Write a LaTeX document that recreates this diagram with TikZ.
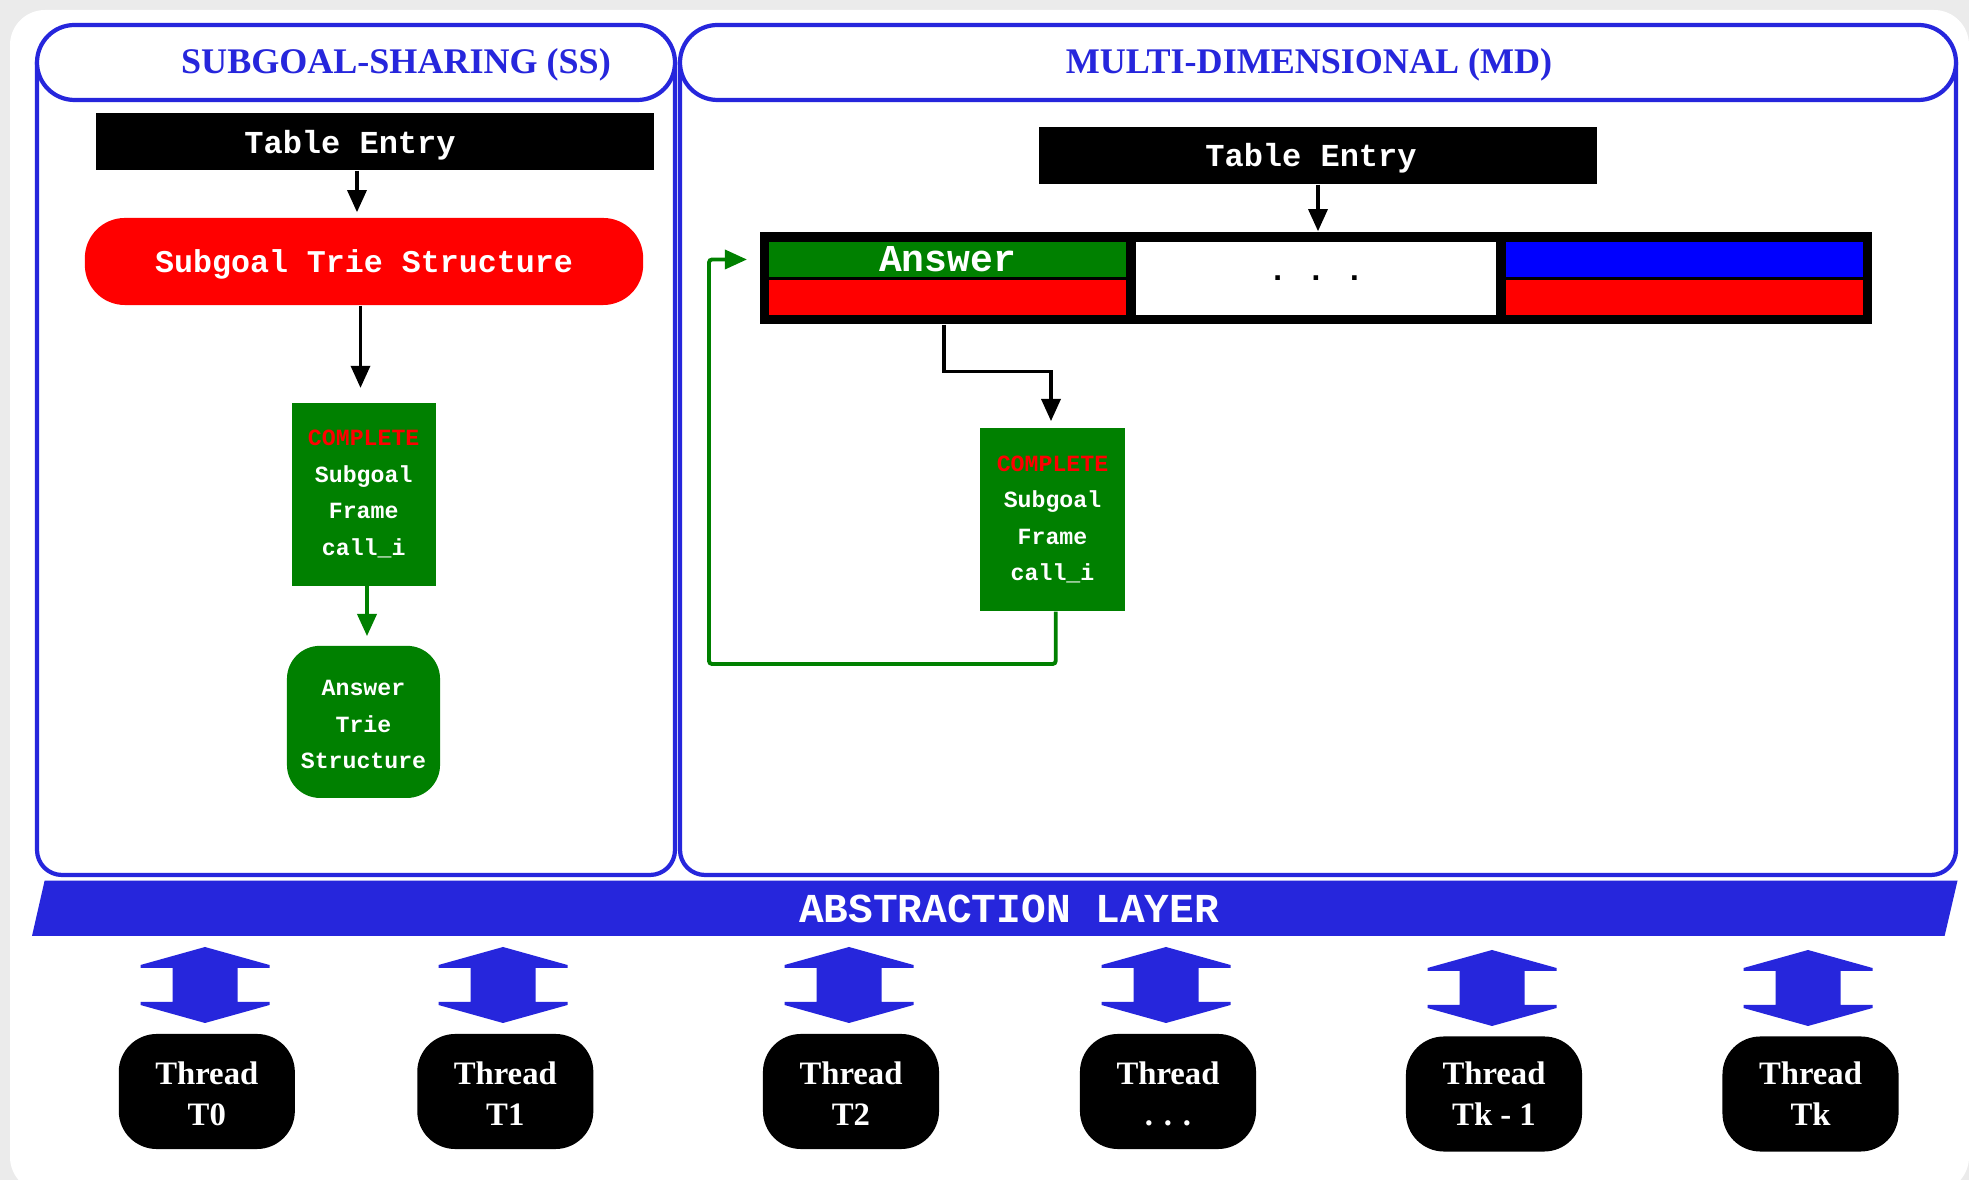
\documentclass[tikz,border=0pt]{standalone}
\usepackage{fontspec}
\setmainfont{Liberation Serif}
\setmonofont{Liberation Mono}
\usetikzlibrary{arrows.meta}
\definecolor{abblue}{RGB}{38,38,220}
\definecolor{dgreen}{RGB}{0,128,0}
\definecolor{bggray}{RGB}{235,235,235}
\begin{document}
\begin{tikzpicture}[x=0.01cm,y=-0.01cm,
  panel/.style={draw=abblue, line width=1.2pt},
  hdrtext/.style={font=\fontsize{10.25}{12}\selectfont\bfseries, text=abblue, inner sep=0pt, anchor=base},
  blackbox/.style={fill=black, text=white, inner sep=0pt, font=\fontsize{9.1}{11}\selectfont\ttfamily\bfseries},
  redbox/.style={fill=red, text=white, inner sep=0pt, font=\fontsize{9}{11}\selectfont\ttfamily\bfseries},
  greenbox/.style={fill=dgreen, text=white, inner sep=0pt, align=center, font=\fontsize{6.6}{10.4}\selectfont\ttfamily\bfseries},
  cell/.style={inner sep=0pt},
  thread/.style={fill=black, text=white, rounded corners=0.38cm, minimum width=1.76cm, minimum height=1.15cm, align=center, inner sep=0pt, font=\fontsize{9.3}{11.66}\selectfont\bfseries},
  conn/.style={line width=1pt, -{Triangle[length=6.3pt,width=5.4pt]}},
  gconn/.style={draw=dgreen, line width=1.1pt, -{Triangle[length=6.3pt,width=5.4pt]}}
]
\useasboundingbox (0,0) rectangle (1969,1180);
\fill[bggray] (0,0) rectangle (1969,1180);
\fill[white, rounded corners=0.35cm] (10,10) rectangle (1969,1192);

% panels
\draw[panel, rounded corners=0.25cm] (37,62) -- (37,875) -- (675,875) -- (675,62);
\draw[panel, fill=white, rounded corners=0.375cm] (37,25) rectangle (675,100);
\draw[panel, rounded corners=0.25cm] (680,62) -- (680,875) -- (1956,875) -- (1956,62);
\draw[panel, fill=white, rounded corners=0.375cm] (680,25) rectangle (1956,100);
\node[hdrtext] (ssh) at (396,74) {SUBGOAL-SHARING (SS)};
\node[hdrtext] (mdh) at (1309,74) {MULTI-DIMENSIONAL (MD)};

% SS side
\node[blackbox, minimum width=5.58cm, minimum height=0.57cm, text height=0.29cm, text depth=0.046cm] (te1) at (375,141.5) {Table Entry\hspace*{0.5cm}};
\node[redbox, minimum width=5.58cm, minimum height=0.87cm, rounded corners=0.4cm, text height=0.26cm, text depth=0.046cm] (st) at (364,261.5) {Subgoal Trie Structure};
\node[greenbox, minimum width=1.44cm, minimum height=1.83cm] (cs1) at (363.7,494.2) {\textcolor{red}{COMPLETE}\\Subgoal\\Frame\\call\_i};
\node[greenbox, rounded corners=0.33cm, minimum width=1.53cm, minimum height=1.52cm] (at1) at (363.5,721.9) {\rule{0pt}{5.9pt}Answer\\Trie\\Structure};
\draw[conn, shorten >=0.05cm] ([xshift=-0.18cm]te1.south) -- ([xshift=-0.18cm]te1.south |- st.north);
\draw[conn, shorten >=0.14cm] ([xshift=-0.035cm]st.south) -- ([xshift=-0.035cm]st.south |- cs1.north);
\draw[gconn, shorten >=0.09cm] ([xshift=0.033cm]cs1.south) -- ([xshift=0.033cm]cs1.south |- at1.north);

% MD side
\node[blackbox, minimum width=5.57cm, minimum height=0.57cm, text height=0.28cm, text depth=0.05cm] (te2) at (1318,155.5) {Table Entry\hspace*{0.14cm}};
\node[fill=black, inner sep=0pt, minimum width=11.12cm, minimum height=0.92cm] (arr) at (1316,278) {};
\node[cell, fill=dgreen, text=white, minimum width=3.57cm, minimum height=0.35cm, font=\fontsize{10.8}{12}\selectfont\ttfamily\bfseries] (c1a) at (947.5,259.5) {Answer};
\node[cell, fill=red, minimum width=3.57cm, minimum height=0.35cm] (c1b) at (947.5,297.5) {};
\node[cell, fill=white, minimum width=3.60cm, minimum height=0.73cm, font=\fontsize{9.1}{11}\selectfont\ttfamily\bfseries] (c2) at (1316,278.5) {. . .};
\node[cell, fill=blue, minimum width=3.574cm, minimum height=0.35cm] (c3a) at (1684.3,259.5) {};
\node[cell, fill=red, minimum width=3.574cm, minimum height=0.35cm] (c3b) at (1684.3,297.5) {};
\node[greenbox, minimum width=1.45cm, minimum height=1.83cm] (cs2) at (1052.5,519.4) {\textcolor{red}{COMPLETE}\\Subgoal\\Frame\\call\_i};
\draw[conn] (te2.south) -- (te2.south |- arr.north);
\coordinate (k1) at (1051,371.7);
\draw[conn, shorten >=0.06cm] ([xshift=-0.035cm]c1b.south |- arr.south) |- (k1) -- (k1 |- cs2.north);
\coordinate (g1) at (709,664);
\draw[gconn, shorten >=0.12cm, rounded corners=0.03cm] ([xshift=0.032cm]cs2.south) |- (g1) |- (arr.west |- c1a.west);

% abstraction layer
\fill[abblue] (32,936) -- (44.6,880.7) -- (1957.5,880.7) -- (1944.6,936) -- cycle;
\node[font=\fontsize{11.7}{14}\selectfont\ttfamily\bfseries, text=white, inner sep=0pt] (abs) at (1009,909) {ABSTRACTION LAYER};

% double arrows
\foreach \ax/\ay in {205/947, 503/947, 849/947, 1166/947, 1492/950, 1808/950} {
  \fill[abblue] (\ax,\ay) -- ++(64.5,18) -- ++(0,3) -- ++(-32,0) -- ++(0,34) -- ++(32,0) -- ++(0,3) -- ++(-64.5,18) -- ++(-64.5,-18) -- ++(0,-3) -- ++(32,0) -- ++(0,-34) -- ++(-32,0) -- ++(0,-3) -- cycle;
}

% threads
\node[thread] (t0) at (206.8,1091.5) {\rule{0pt}{7.7pt}Thread\\T0};
\node[thread] (t1) at (505.3,1091.5) {\rule{0pt}{7.7pt}Thread\\T1};
\node[thread] (t2) at (851,1091.5) {\rule{0pt}{7.7pt}Thread\\T2};
\node[thread] (t3) at (1168,1091.5) {\rule{0pt}{7.7pt}Thread\\. . .};
\node[thread] (t4) at (1494,1094) {Thread\\Tk - 1};
\node[thread] (t5) at (1810.5,1094) {Thread\\Tk};
\end{tikzpicture}
\end{document}
